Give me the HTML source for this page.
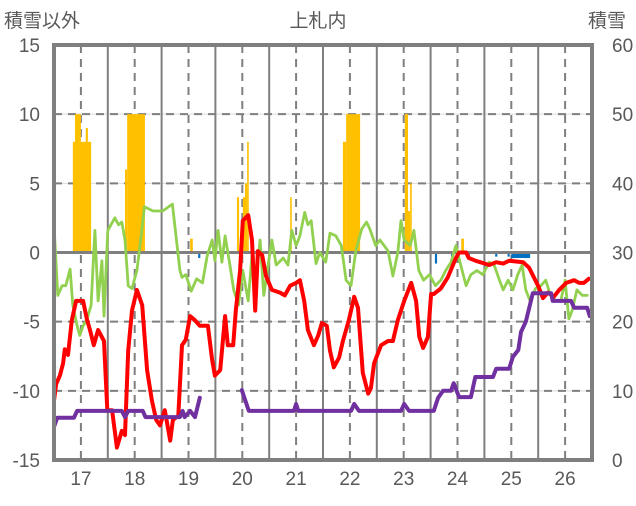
<!DOCTYPE html>
<html><head><meta charset="utf-8"><style>
html,body{margin:0;padding:0;background:#fff;}
svg text{font-family:"Liberation Sans","Noto Sans CJK JP",sans-serif;fill:#595959;}
</style></head><body>
<svg id="chart" width="636" height="501" viewBox="0 0 636 501" xmlns="http://www.w3.org/2000/svg">
<text x="318" y="27" font-size="19" text-anchor="middle">上札内</text>
<text x="4" y="27" font-size="19">積雪以外</text>
<text x="588" y="27" font-size="19">積雪</text>
<g id="grid"></g><g id="bars"></g><g id="lines"></g><g id="axes"></g>
</svg>
<script>
const leftTicks=[15,10,5,0,-5,-10,-15];
const rightTicks=[60,50,40,30,20,10,0];
const dayLabels=[17,18,19,20,21,22,23,24,25,26];
const barStart=[16.85,16.89,17.09,17.82,17.86,19.03,19.90,20.01,20.05,20.09,20.89,21.87,21.93,23.02,23.08,23.12,24.07];
const barEnd  =[17.19,17.00,17.13,17.86,18.19,19.08,19.94,20.05,20.09,20.12,20.92,21.93,22.19,23.08,23.12,23.15,24.12];
const barVal  =[8,10,9,6,10,1,4,4,5,8,4,8,10,10,3,5,1];
const negStart=[19.18,23.58,23.88,24.20,24.70,24.93,25.00];
const negEnd  =[19.22,23.62,23.92,24.23,24.74,24.97,25.35];
const negVal  =[-0.4,-0.8,-0.3,-0.3,-0.3,-0.3,-0.4];
const redT=[16.50,16.54,16.61,16.67,16.70,16.76,16.83,16.91,17.04,17.11,17.17,17.24,17.32,17.43,17.49,17.58,17.67,17.76,17.82,17.88,17.95,18.04,18.14,18.23,18.32,18.40,18.47,18.56,18.66,18.71,18.81,18.88,18.95,19.03,19.12,19.21,19.36,19.44,19.49,19.59,19.68,19.73,19.83,19.88,19.96,20.01,20.11,20.18,20.24,20.29,20.37,20.44,20.55,20.70,20.79,20.89,21.00,21.07,21.15,21.22,21.33,21.41,21.48,21.57,21.63,21.70,21.80,21.87,21.98,22.08,22.15,22.24,22.34,22.39,22.45,22.58,22.71,22.80,22.89,23.01,23.14,23.23,23.29,23.36,23.45,23.51,23.56,23.69,23.82,23.97,24.03,24.16,24.21,24.34,24.59,24.72,24.85,24.96,25.22,25.33,25.42,25.51,25.59,25.68,25.79,25.89,26.02,26.17,26.26,26.35,26.44];
const redV=[-10.7,-9.5,-8.9,-8,-7,-7.4,-4.9,-3.5,-3.5,-4.8,-5.6,-6.7,-5.6,-6.4,-11.4,-11.4,-14.1,-12.9,-13.2,-7.1,-4.2,-2.7,-3.8,-8.5,-10.7,-12.1,-12.5,-11.4,-13.6,-12.1,-11.8,-6.7,-6.3,-4.6,-4.9,-5.3,-5.3,-7.8,-8.9,-8.5,-4.6,-6.7,-6.7,-4.2,-1.3,2.3,2.7,0.9,-4.2,0.1,-0.2,-1.7,-2.7,-2.9,-3.1,-2.4,-2.2,-2,-3.5,-5.6,-6.7,-6,-5.1,-5.3,-7.1,-8.3,-7.6,-6.4,-4.9,-3.2,-4,-8.7,-10.2,-9.8,-8,-6.7,-6.4,-6.4,-4.9,-3.5,-2.2,-3.5,-6.1,-6.9,-6.1,-3,-3,-2.6,-1.8,-0.4,0,0,-0.4,-0.6,-0.9,-0.7,-0.8,-0.6,-0.7,-1.1,-1.8,-2.5,-3.3,-2.9,-3.2,-2.7,-2.2,-2,-2.2,-2.2,-1.9];
const greenT=[16.50,16.57,16.65,16.72,16.80,16.85,16.93,16.98,17.04,17.11,17.19,17.26,17.32,17.39,17.43,17.50,17.63,17.70,17.76,17.82,17.88,17.95,18.04,18.12,18.18,18.34,18.52,18.70,18.84,18.88,18.95,19.05,19.15,19.26,19.35,19.44,19.49,19.55,19.62,19.68,19.77,19.84,19.93,20.01,20.11,20.18,20.25,20.33,20.40,20.48,20.55,20.63,20.76,20.85,20.92,21.00,21.07,21.16,21.22,21.28,21.37,21.44,21.55,21.63,21.74,21.84,21.93,22.02,22.11,22.22,22.31,22.37,22.48,22.56,22.71,22.80,22.89,22.95,23.01,23.12,23.19,23.28,23.37,23.48,23.59,23.69,23.78,23.88,23.97,24.06,24.16,24.25,24.36,24.47,24.59,24.68,24.78,24.85,24.94,25.03,25.12,25.20,25.27,25.35,25.45,25.55,25.64,25.73,25.82,25.92,26.00,26.07,26.13,26.22,26.32,26.41,26.46];
const greenV=[2,-3.1,-2.4,-2.4,-1.2,-3.8,-5.3,-6,-5.3,-4.9,-3.8,1.6,-3.5,-0.6,-4.6,1.6,2.5,2,2.2,0.9,-2.4,-2.6,-1.3,1.2,3.3,3,3,3.5,-1.3,-1.8,-1.6,-2.8,-1.9,-2.2,-0.2,0.9,-0.6,1.6,-0.7,1.2,-0.9,-2.7,-3.8,-1.3,-3.5,-0.2,-2,0.9,-3.1,-0.9,0.9,-0.9,-0.4,-0.9,1.6,0.5,1.2,2.9,2,2.3,-0.8,0,-0.7,1.4,1.2,0.5,-2,-2.4,0.1,1.7,2.2,1.7,0.5,0.9,0.1,-1.7,0,2.3,0.9,0.5,1.6,-1.3,-2,-1.6,-2.4,-2,-1.3,-0.7,0.5,-0.9,-2.4,-1.6,-1.3,-1.6,-0.7,-0.9,-2,-2.7,-2,-2.7,-1.6,-0.9,-2.7,-3.5,-2.6,-2.4,-2,-3.1,-3.5,-3.5,-2,-4.8,-4.2,-2.7,-3.1,-3.1];
const snowT1=[16.50,16.56,16.87,16.93,17.76,17.82,17.88,18.15,18.20,18.84,18.89,18.93,19.03,19.12,19.21];
const snowV1=[4.8,6.1,6.1,7.1,7.1,6.2,7.1,7.1,6.2,6.2,7.1,6.2,7.1,6.2,9];
const snowT2=[19.99,20.12,20.96,21.00,21.04,22.02,22.08,22.17,22.95,23.01,23.10,23.56,23.64,23.73,23.88,23.93,24.03,24.25,24.33,24.66,24.72,24.96,25.03,25.13,25.18,25.27,25.40,25.74,25.77,26.11,26.17,26.41,26.46];
const snowV2=[10.1,7.1,7.1,8.1,7.1,7.1,8.1,7.1,7.1,8.1,7.1,7.1,9,10,10,11.1,9.1,9.1,12,12,13.2,13.2,14.9,15.9,18.5,20,24.1,24.1,23,23,22,22,20.8];

const L=54,R=592,T=45,B=460,NS='http://www.w3.org/2000/svg';
const xs=t=>L+(t-16.5)/10*(R-L);
const yl=v=>B-(v+15)/30*(B-T);
const yr=v=>B-v/60*(B-T);
function mk(tag,attrs,parent){const e=document.createElementNS(NS,tag);for(const k in attrs)e.setAttribute(k,attrs[k]);document.getElementById(parent).appendChild(e);return e;}
// horizontal grid
leftTicks.forEach((v,i)=>{
  if(v!==15&&v!==-15&&v!==0){
    const g=mk('line',{x1:L,x2:R,y1:yl(v),y2:yl(v),stroke:'#d9d9d9','stroke-width':1},'grid');
    
    
    const d=mk('line',{x1:L,x2:R,y1:yl(v),y2:yl(v),stroke:'#7f7f7f','stroke-width':2,'stroke-dasharray':'8 6'},'grid');
    
    
  }
  const t=mk('text',{x:L-14,y:yl(v)+7,'font-size':19,'text-anchor':'end'},'axes');
  t.textContent=v;
  
  
});
rightTicks.forEach(v=>{
  const t=mk('text',{x:R+20,y:yr(v)+7,'font-size':19},'axes');
  t.textContent=v;
  
  
});
dayLabels.forEach(d=>{
  const dl=mk('line',{x1:xs(d),x2:xs(d),y1:T,y2:B,stroke:'#7f7f7f','stroke-width':2,'stroke-dasharray':'8 6'},'grid');
  
  
  if(d<26){
    const sl=mk('line',{x1:xs(d+0.5),x2:xs(d+0.5),y1:T,y2:B,stroke:'#7f7f7f','stroke-width':2},'grid');
    
    
  }
  const t=mk('text',{x:xs(d),y:B+25,'font-size':19,'text-anchor':'middle'},'axes');
  t.textContent=d;
  
  
});
// bars
barVal.forEach((v,i)=>{
  const r=mk('rect',{x:xs(barStart[i]),width:xs(barEnd[i])-xs(barStart[i]),y:yl(v),height:yl(0)-yl(v),fill:'#ffc000'},'bars');
  
  
});
negVal.forEach((v,i)=>{
  const r=mk('rect',{x:xs(negStart[i]),width:xs(negEnd[i])-xs(negStart[i]),y:yl(0),height:yl(v)-yl(0),fill:'#0070c0'},'bars');
  
  
});
const z=mk('line',{x1:L,x2:R,y1:yl(0),y2:yl(0),stroke:'#7f7f7f','stroke-width':3},'bars');


function line(ts,vs,ys,color,w,name){
  const p=mk('polyline',{points:ts.map((t,i)=>xs(t).toFixed(1)+','+ys(vs[i]).toFixed(1)).join(' '),fill:'none',stroke:color,'stroke-width':w,'stroke-linejoin':'round','stroke-linecap':'round'},'lines');
  
  
}
line(greenT,greenV,yl,'#92d050',2.8,'green-series');
line(redT,redV,yl,'#ff0000',4,'temperature-series');
line(snowT1,snowV1,yr,'#7030a0',4,'snow-depth-series-1');
line(snowT2,snowV2,yr,'#7030a0',4,'snow-depth-series-2');
const fr=mk('rect',{x:L,y:T,width:R-L,height:B-T,fill:'none',stroke:'#7f7f7f','stroke-width':4},'axes');


</script>
</body></html>
